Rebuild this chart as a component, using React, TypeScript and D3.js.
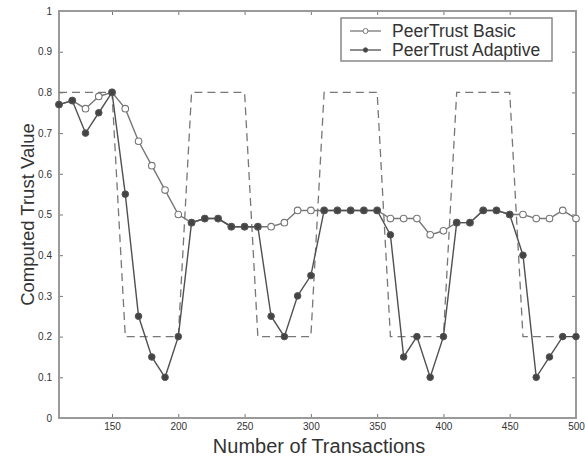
import React, { useEffect, useRef } from "react";
import * as d3 from "d3";

const transactions = [
  110, 120, 130, 140, 150, 160, 170, 180, 190, 200,
  210, 220, 230, 240, 250, 260, 270, 280, 290, 300,
  310, 320, 330, 340, 350, 360, 370, 380, 390, 400,
  410, 420, 430, 440, 450, 460, 470, 480, 490, 500,
];
const actualTrust = [
  0.8, 0.8, 0.8, 0.8, 0.8, 0.2, 0.2, 0.2, 0.2, 0.2,
  0.8, 0.8, 0.8, 0.8, 0.8, 0.2, 0.2, 0.2, 0.2, 0.2,
  0.8, 0.8, 0.8, 0.8, 0.8, 0.2, 0.2, 0.2, 0.2, 0.2,
  0.8, 0.8, 0.8, 0.8, 0.8, 0.2, 0.2, 0.2, 0.2, 0.2,
];
const basicTrust = [
  0.77, 0.78, 0.76, 0.79, 0.8, 0.76, 0.68, 0.62, 0.56, 0.5,
  0.48, 0.49, 0.49, 0.47, 0.47, 0.47, 0.47, 0.48, 0.51, 0.51,
  0.51, 0.51, 0.51, 0.51, 0.51, 0.49, 0.49, 0.49, 0.45, 0.46,
  0.48, 0.48, 0.51, 0.51, 0.5, 0.5, 0.49, 0.49, 0.51, 0.49,
];
const adaptiveTrust = [
  0.77, 0.78, 0.7, 0.75, 0.8, 0.55, 0.25, 0.15, 0.1, 0.2,
  0.48, 0.49, 0.49, 0.47, 0.47, 0.47, 0.25, 0.2, 0.3, 0.35,
  0.51, 0.51, 0.51, 0.51, 0.51, 0.45, 0.15, 0.2, 0.1, 0.2,
  0.48, 0.48, 0.51, 0.51, 0.5, 0.4, 0.1, 0.15, 0.2, 0.2,
];
const xTicks = [150, 200, 250, 300, 350, 400, 450, 500];
const yTicks = [0, 0.1, 0.2, 0.3, 0.4, 0.5, 0.6, 0.7, 0.8, 0.9, 1];
const seriesNames = ["PeerTrust Basic", "PeerTrust Adaptive"];

function App() {
  const svgRef = useRef<SVGSVGElement | null>(null);
  const svgWidth = 585;
  const svgHeight = 459;

  useEffect(() => {
    const svg = d3.select(svgRef.current);
    svg.selectAll("*").remove();
    const margin = { top: 11, right: 9, bottom: 41, left: 59 };
    const width = svgWidth - margin.left - margin.right;
    const height = svgHeight - margin.top - margin.bottom;
    const font = "'Liberation Sans', Arial, sans-serif";
    const lineColor = "#505050";
    const axisColor = "#9a9a9a";

    const g = svg
      .append("g")
      .attr("transform", `translate(${margin.left},${margin.top})`);

    const x = d3.scaleLinear().domain([110, 500]).range([0, width]);
    const y = d3.scaleLinear().domain([0, 1]).range([height, 0]);

    // ticks pointing inwards on all four sides
    const tickLen = 4;
    const styleAxis = (sel: any) => {
      sel.select(".domain").remove();
      sel.selectAll(".tick line").attr("stroke", "#777").attr("stroke-width", 1);
      sel
        .selectAll(".tick text")
        .attr("fill", "#333")
        .style("font-family", font)
        .style("font-size", "10px");
    };

    g.append("g")
      .attr("transform", `translate(0,${height})`)
      .call(d3.axisBottom(x).tickValues(xTicks).tickSizeInner(-tickLen).tickSizeOuter(0).tickPadding(5).tickFormat(d3.format("d")))
      .call(styleAxis);
    g.append("g")
      .call(d3.axisTop(x).tickValues(xTicks).tickSizeInner(-tickLen).tickSizeOuter(0).tickFormat(() => ""))
      .call(styleAxis);
    g.append("g")
      .call(d3.axisLeft(y).tickValues(yTicks).tickSizeInner(-tickLen).tickSizeOuter(0).tickPadding(7).tickFormat((d: any) => (d === 0 || d === 1 ? String(d) : d3.format(".1f")(d))))
      .call(styleAxis);
    g.append("g")
      .attr("transform", `translate(${width},0)`)
      .call(d3.axisRight(y).tickValues(yTicks).tickSizeInner(-tickLen).tickSizeOuter(0).tickFormat(() => ""))
      .call(styleAxis);

    g.append("rect")
      .attr("width", width)
      .attr("height", height)
      .attr("fill", "none")
      .attr("stroke", axisColor)
      .attr("stroke-width", 2);

    const line = d3
      .line<number>()
      .x((_, i) => x(transactions[i]))
      .y((d) => y(d));

    g.append("path")
      .datum(actualTrust)
      .attr("d", line)
      .attr("fill", "none")
      .attr("stroke", "#777")
      .attr("stroke-width", 1.3)
      .attr("stroke-dasharray", "8,5");

    g.append("path")
      .datum(basicTrust)
      .attr("d", line)
      .attr("fill", "none")
      .attr("stroke", "#777")
      .attr("stroke-width", 1.4);

    g.selectAll(".basic")
      .data(basicTrust)
      .enter()
      .append("circle")
      .attr("class", "basic")
      .attr("cx", (_, i) => x(transactions[i]))
      .attr("cy", (d) => y(d))
      .attr("r", 3.3)
      .attr("fill", "white")
      .attr("stroke", "#777")
      .attr("stroke-width", 1.1);

    g.append("path")
      .datum(adaptiveTrust)
      .attr("d", line)
      .attr("fill", "none")
      .attr("stroke", lineColor)
      .attr("stroke-width", 1.4);

    g.selectAll(".adaptive")
      .data(adaptiveTrust)
      .enter()
      .append("circle")
      .attr("class", "adaptive")
      .attr("cx", (_, i) => x(transactions[i]))
      .attr("cy", (d) => y(d))
      .attr("r", 3.3)
      .attr("fill", "#444")
      .attr("stroke", "#555")
      .attr("stroke-width", 1);

    // legend
    const legend = g.append("g").attr("transform", `translate(${341 - margin.left},${18 - margin.top})`);
    legend
      .append("rect")
      .attr("width", 211)
      .attr("height", 43)
      .attr("fill", "white")
      .attr("stroke", "#888")
      .attr("stroke-width", 1.5);
    seriesNames.forEach((name, i) => {
      const ly = 13 + i * 19;
      legend
        .append("line")
        .attr("x1", 9)
        .attr("x2", 40)
        .attr("y1", ly)
        .attr("y2", ly)
        .attr("stroke", i === 0 ? "#777" : lineColor)
        .attr("stroke-width", 1.3);
      legend
        .append("circle")
        .attr("cx", 24.5)
        .attr("cy", ly)
        .attr("r", i === 0 ? 2.5 : 2.2)
        .attr("fill", i === 0 ? "white" : "#444")
        .attr("stroke", i === 0 ? "#777" : "#555");
      legend
        .append("text")
        .attr("x", 51)
        .attr("y", ly + 6)
        .attr("fill", "#333")
        .style("font-family", font)
        .style("font-size", "17.5px")
        .text(name);
    });

    svg
      .append("text")
      .attr("x", 319)
      .attr("y", 453)
      .attr("text-anchor", "middle")
      .attr("fill", "#333")
      .style("font-family", font)
      .style("font-size", "20px")
      .text("Number of Transactions");

    svg
      .append("text")
      .attr("transform", `translate(34,${margin.top + height / 2}) rotate(-90)`)
      .attr("text-anchor", "middle")
      .attr("fill", "#333")
      .style("font-family", font)
      .style("font-size", "18.5px")
      .text("Computed Trust Value");
  }, []);

  return (
    <div style={{ position: "absolute", left: 0, top: 0 }}>
      <svg ref={svgRef} width={svgWidth} height={svgHeight} style={{ display: "block", background: "white" }}></svg>
    </div>
  );
}

export default App;
